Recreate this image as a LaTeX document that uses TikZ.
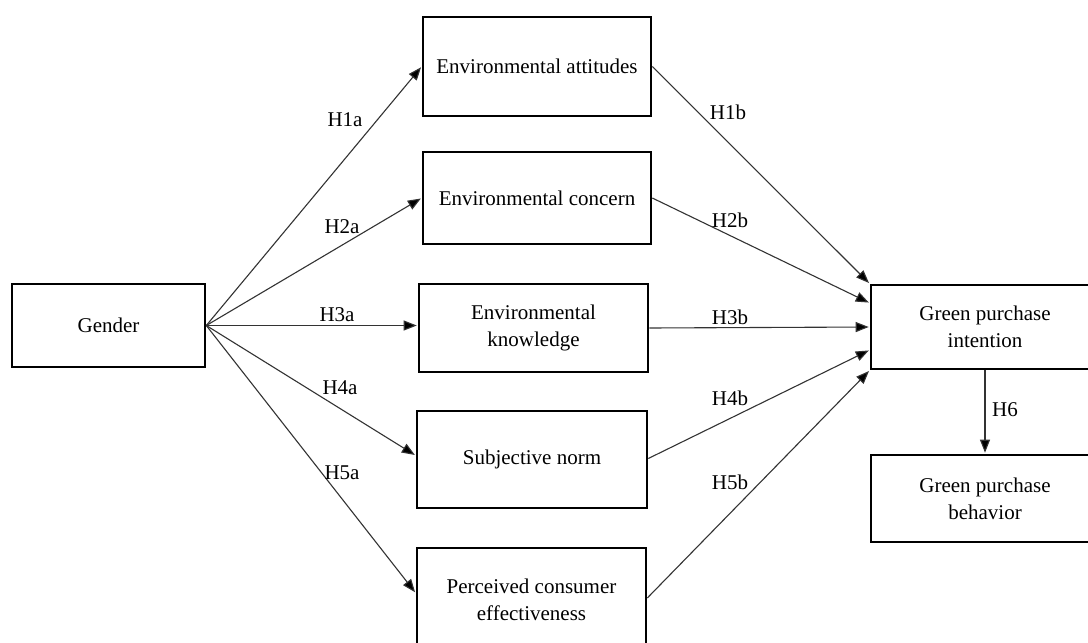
\documentclass[tikz,border=0pt]{standalone}
\usepackage{fontspec}
\setmainfont{Liberation Serif}
\usetikzlibrary{arrows.meta}
\begin{document}
\begin{tikzpicture}[x=1pt,y=-1pt,
  box/.style={draw=black,line width=2.6pt,inner sep=0pt,align=center,
    font=\fontsize{21}{27}\selectfont},
  conn/.style={line width=1.1pt,draw=black!80,-{Triangle[length=13pt,width=10pt,fill=black]},shorten >=1pt},
  lbl/.style={font=\fontsize{21}{24}\selectfont,inner sep=0pt}
]
\useasboundingbox (0,0) rectangle (1088,643);
\clip (0,0) rectangle (1088,643);
\fill[white] (0,0) rectangle (1088,643);

% boxes
\node[box,minimum width=193pt,minimum height=83pt] (gender) at (108.5,325.5) {Gender};
\node[box,minimum width=228pt,minimum height=99pt] (ea) at (537,66.5) {Environmental attitudes};
\node[box,minimum width=228pt,minimum height=92pt] (ec) at (537,198) {Environmental concern};
\node[box,minimum width=229pt,minimum height=88pt] (ek) at (533.5,328) {Environmental\\knowledge};
\node[box,minimum width=230pt,minimum height=97pt] (sn) at (532,459.5) {Subjective norm};
\node[box,minimum width=229pt,minimum height=104pt] (pce) at (531.5,600) {Perceived consumer\\effectiveness};
\node[box,minimum width=228pt,minimum height=84pt] (gpi) at (985,327) {Green purchase\\intention};
\node[box,minimum width=228pt,minimum height=87pt] (gpb) at (985,498.5) {Green purchase\\behavior};

% gender arrows
\draw[conn] (gender.east) -- (ea.west);
\draw[conn] (gender.east) -- (ec.west);
\draw[conn] (gender.east) -- (gender.east -| ek.west);
\draw[conn] (gender.east) -- ([yshift=4pt]sn.west);
\draw[conn] (gender.east) -- ([yshift=7pt]pce.west);

% arrows to intention
\draw[conn] (ea.east) -- (gpi.north west);
\draw[conn] (ec.east) -- ([yshift=24pt]gpi.west);
\draw[conn] (ek.east) -- (gpi.west);
\draw[conn] ([yshift=1pt]sn.east) -- ([yshift=-23pt]gpi.west);
\draw[conn] ([yshift=2pt]pce.east) -- (gpi.south west);
\draw[conn] (gpi.south) -- (gpb.north);

% labels
\node[lbl] (h1a) at (345,120) {H1a};
\node[lbl] (h2a) at (342,227) {H2a};
\node[lbl] (h3a) at (337,315) {H3a};
\node[lbl] (h4a) at (340,388) {H4a};
\node[lbl] (h5a) at (342,473) {H5a};
\node[lbl] (h1b) at (728,112) {H1b};
\node[lbl] (h2b) at (730,220) {H2b};
\node[lbl] (h3b) at (730,317) {H3b};
\node[lbl] (h4b) at (730,398) {H4b};
\node[lbl] (h5b) at (730,482) {H5b};
\node[lbl] (h6) at (1005,410) {H6};
\end{tikzpicture}
\end{document}
